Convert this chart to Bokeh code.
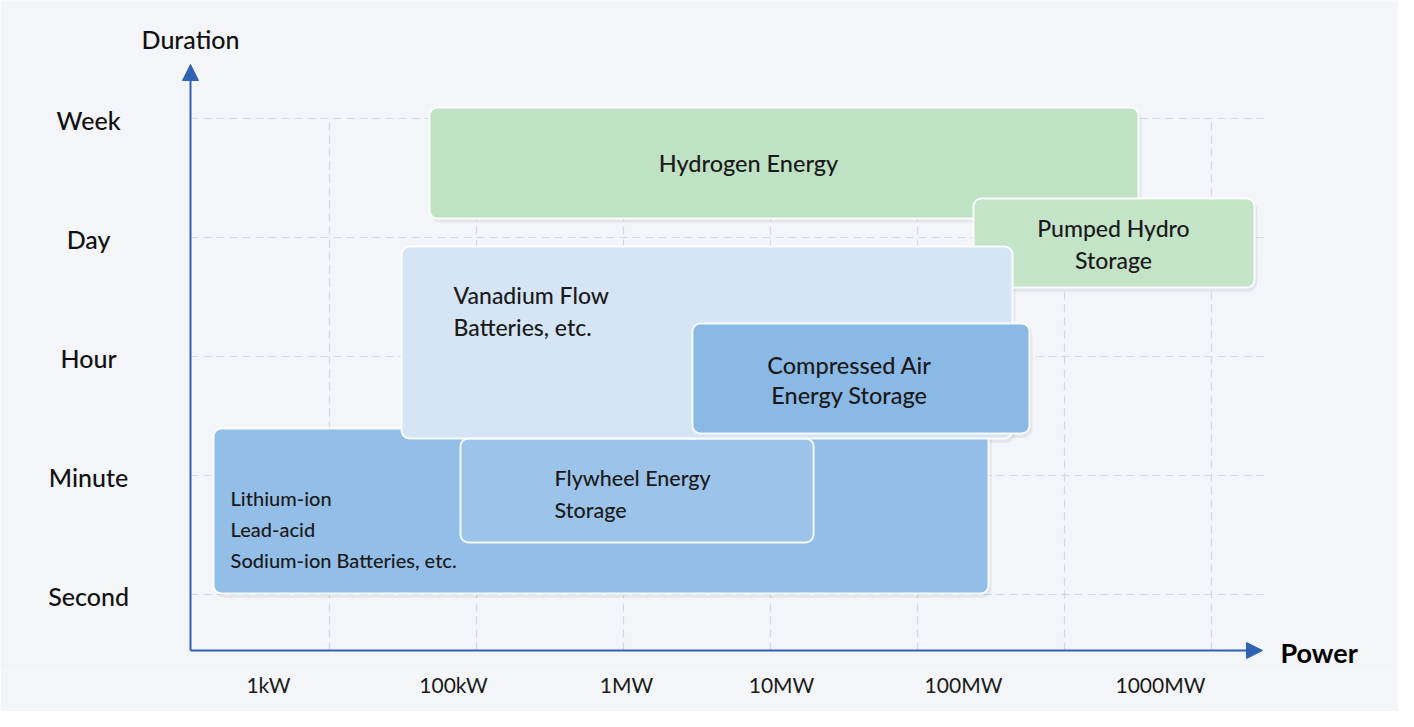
from bokeh.plotting import figure
from bokeh.models import Range1d, FixedTicker, Arrow, NormalHead, ColumnDataSource
from bokeh.core.properties import value
from bokeh.embed import file_html
from bokeh.resources import INLINE

# ---------------- data ----------------
duration_labels = ["Second", "Minute", "Hour", "Day", "Week"]
duration_levels = [0, 1, 2, 3, 4]

power_labels = ["1kW", "100kW", "1MW", "10MW", "100MW", "1000MW"]
power_label_pos = [0.585, 1.844, 3.020, 4.075, 5.313, 6.653]
power_grid = [1, 2, 3, 4, 5, 6, 7]

tech_names = [
    "Lithium-ion\nLead-acid\nSodium-ion Batteries, etc.",
    "Flywheel Energy\nStorage",
    "Hydrogen Energy",
    "Pumped Hydro\nStorage",
    "Vanadium Flow\nBatteries, etc.",
    "Compressed Air\nEnergy Storage",
]
power_min = [0.211, 1.891, 1.680, 5.381, 1.490, 3.469]
power_max = [5.483, 4.293, 6.503, 7.293, 5.646, 5.762]
duration_min = [0.008, 0.437, 3.160, 2.580, 1.311, 1.353]
duration_max = [1.395, 1.311, 4.092, 3.328, 2.924, 2.277]
tech_colors = ["#93bee7", "#9cc3e9", "#bfe2c4", "#c4e4c8", "#d5e5f5", "#8bb9e5"]

label_x = [0.327, 2.531, 3.850, 6.333, 1.844, 4.537]
label_y = [0.550, 0.845, 3.622, 2.945, 2.382, 1.803]
label_align = ["left", "left", "center", "center", "left", "center"]
label_size = ["20px", "21.5px", "23.5px", "23px", "23px", "23.5px"]
label_line_height = [1.3, 1.2, 1.1, 1.12, 1.12, 1.1]

AXIS_X = 0.0544
AXIS_Y = -0.4706
X_TIP = 7.347
Y_TIP = 4.454
GRID_END = 7.36

BG = "#f3f5f8"
AXIS_COLOR = "#2f62b5"
FONT = "Lato"
FONT_MED = "Lato Medium"

p = figure(
    width=1398, height=711,
    x_range=Range1d(-1.2381, 8.2721), y_range=Range1d(-0.6471, 4.9916),
    output_backend="svg", toolbar_location=None,
    min_border_left=0, min_border_right=0, min_border_top=0, min_border_bottom=40,
    background_fill_color=BG, border_fill_color=BG, outline_line_color=None,
    y_axis_location=None,
)
p.grid.visible = False

# grid lines (dashed)
p.segment(x0=[AXIS_X] * len(duration_levels), x1=[GRID_END] * len(duration_levels),
          y0=duration_levels, y1=duration_levels,
          line_color="#d3d9e3", line_width=1.2, line_dash="8 5")
p.segment(x0=power_grid, x1=power_grid,
          y0=[AXIS_Y] * len(power_grid), y1=[max(duration_levels)] * len(power_grid),
          line_color="#d3d9e3", line_width=1.2, line_dash="8 5")

# soft shadows under the boxes
shadow = ColumnDataSource(dict(left=[v + 0.01 for v in power_min],
                               right=[v + 0.02 for v in power_max],
                               bottom=[v - 0.035 for v in duration_min],
                               top=[v - 0.02 for v in duration_max]))
p.quad(left="left", right="right", bottom="bottom", top="top", source=shadow,
       fill_color="#8f9cb0", fill_alpha=0.16, line_color=None, border_radius=9)

# boxes
src = ColumnDataSource(dict(left=power_min, right=power_max, bottom=duration_min,
                            top=duration_max, color=tech_colors))
p.quad(left="left", right="right", bottom="bottom", top="top", source=src,
       fill_color="color", line_color="white", line_width=2, line_alpha=0.9,
       border_radius=8)

# box labels
lsrc = ColumnDataSource(dict(x=label_x, y=label_y, text=tech_names, align=label_align,
                             size=label_size, lh=label_line_height))
p.text(x="x", y="y", text="text", source=lsrc, text_align="align",
       text_baseline="middle", text_font=value(FONT_MED), text_font_size="size",
       text_color="#1a1a1a", text_line_height="lh")

# y labels
p.text(x=[-0.639] * len(duration_levels), y=duration_levels, text=duration_labels,
       text_align="center", text_baseline="middle", text_font=value(FONT_MED),
       text_font_size="25px", text_color="#111111", y_offset=2)

# axis titles
p.text(x=[AXIS_X], y=[4.67], text=["Duration"], text_align="center",
       text_baseline="middle", text_font=value(FONT_MED), text_font_size="25px",
       text_color="#111111")
p.text(x=[7.469], y=[-0.487], text=["Power"], text_align="left",
       text_baseline="middle", text_font=value(FONT), text_font_size="27px",
       text_font_style="bold", text_color="#000000")

# axes arrows
p.add_layout(Arrow(end=NormalHead(size=16, fill_color=AXIS_COLOR, line_color=AXIS_COLOR),
                   x_start=AXIS_X, y_start=AXIS_Y, x_end=AXIS_X, y_end=Y_TIP,
                   line_color=AXIS_COLOR, line_width=2))
p.add_layout(Arrow(end=NormalHead(size=16, fill_color=AXIS_COLOR, line_color=AXIS_COLOR),
                   x_start=AXIS_X, y_start=AXIS_Y, x_end=X_TIP, y_end=AXIS_Y,
                   line_color=AXIS_COLOR, line_width=2))

# x axis (tick labels only)
xa = p.xaxis[0]
xa.ticker = FixedTicker(ticks=power_label_pos)
xa.major_label_overrides = {pos: lab for pos, lab in zip(power_label_pos, power_labels)}
xa.axis_line_color = None
xa.major_tick_line_color = None
xa.minor_tick_line_color = None
xa.major_tick_out = 0
xa.major_tick_in = 0
xa.major_label_standoff = 0
xa.major_label_text_font = FONT
xa.major_label_text_font_size = "21px"
xa.major_label_text_color = "#1a1a1a"

open("out.html", "w").write(file_html(p, INLINE))
